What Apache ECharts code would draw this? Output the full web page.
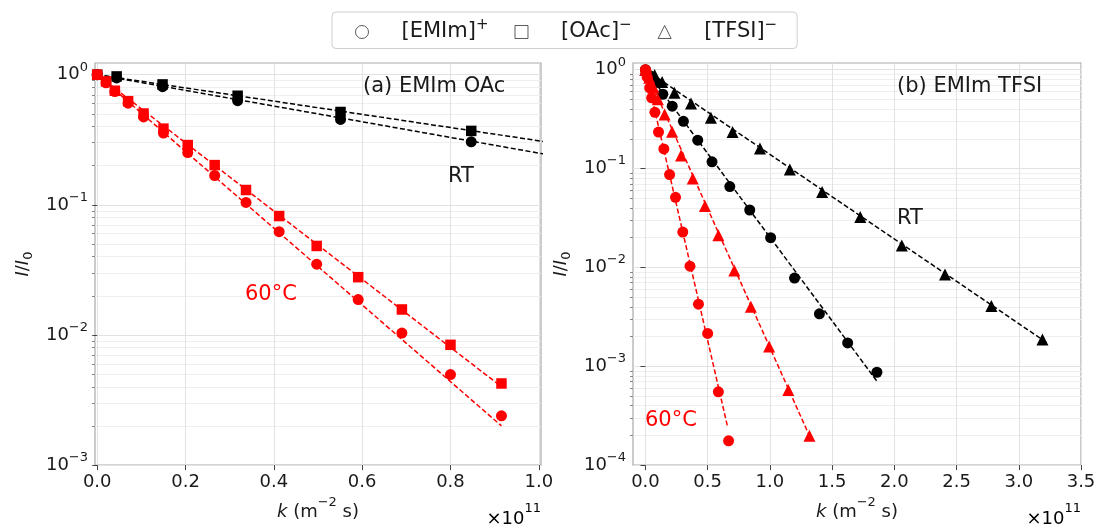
<!DOCTYPE html>
<html><head><meta charset="utf-8">
<script src="https://cdn.jsdelivr.net/npm/echarts@6/dist/echarts.min.js"></script>
<style>html,body{margin:0;padding:0;background:#fff}#c{width:1104px;height:526px}</style>
</head><body><div id="c"></div>
<script>
// ---- Panel (a) EMIm OAc : k in units of 1e11 m^-2 s ----
const kA_RT = [0, 0.044, 0.148, 0.318, 0.551, 0.847];
const yA_OAc_RT = [1.0, 0.97, 0.842, 0.689, 0.517, 0.370];
const yA_EMIm_RT = [1.0, 0.944, 0.809, 0.632, 0.453, 0.305];
const kA_60 = [0, 0.02, 0.04, 0.07, 0.105, 0.15, 0.205, 0.266, 0.337, 0.412, 0.497, 0.591, 0.690, 0.800, 0.9155];
const yA_OAc_60 = [1.0, 0.888, 0.753, 0.626, 0.503, 0.385, 0.288, 0.202, 0.130, 0.082, 0.0483, 0.0278, 0.0157, 0.0084, 0.00424];
const yA_EMIm_60 = [1.0, 0.867, 0.742, 0.604, 0.474, 0.356, 0.252, 0.168, 0.1044, 0.0622, 0.035, 0.0187, 0.01035, 0.00496, 0.00239];
// fitted decay lines (end points)
const fitA_OAc_RT = {k: [0, 1.05], y: [1.0, 0.293]};
const fitA_EMIm_RT = {k: [0, 1.05], y: [1.0, 0.233]};
const fitA_OAc_60 = {k: [0, 0.9155], y: [1.0, 0.0040]};
const fitA_EMIm_60 = {k: [0, 0.9155], y: [1.0, 0.0020]};

// ---- Panel (b) EMIm TFSI ----
const kB_TFSI_RT = [0, 0.074, 0.134, 0.233, 0.366, 0.526, 0.70, 0.92, 1.16, 1.42, 1.726, 2.06, 2.407, 2.78, 3.19];
const yB_TFSI_RT = [1.0, 0.887, 0.75, 0.585, 0.455, 0.327, 0.235, 0.160, 0.098, 0.0578, 0.0323, 0.0167, 0.00847, 0.00406, 0.00187];
const kB_EMIm_RT = [0, 0.035, 0.075, 0.14, 0.215, 0.305, 0.42, 0.535, 0.678, 0.838, 1.006, 1.198, 1.398, 1.625, 1.86];
const yB_EMIm_RT = [1.0, 0.87, 0.75, 0.565, 0.428, 0.301, 0.194, 0.117, 0.0658, 0.0381, 0.020, 0.0078, 0.00339, 0.00172, 0.00087];
const kB_TFSI_60 = [0, 0.03, 0.065, 0.10, 0.154, 0.214, 0.286, 0.38, 0.478, 0.586, 0.714, 0.847, 0.994, 1.148, 1.318];
const yB_TFSI_60 = [1.0, 0.83, 0.66, 0.503, 0.352, 0.236, 0.136, 0.0794, 0.0418, 0.0211, 0.00933, 0.00401, 0.00158, 0.000574, 0.000198];
const kB_EMIm_60 = [0, 0.005, 0.014, 0.034, 0.05, 0.076, 0.105, 0.148, 0.194, 0.2416, 0.30, 0.358, 0.426, 0.50, 0.586, 0.668];
const yB_EMIm_60 = [1.0, 0.95, 0.84, 0.655, 0.52, 0.371, 0.234, 0.158, 0.087, 0.0512, 0.0228, 0.0103, 0.00425, 0.00215, 0.000552, 0.000176];
const fitB_TFSI_RT = {k: [0, 3.22], y: [1.0, 0.00175]};
const fitB_EMIm_RT = {k: [0, 1.87], y: [1.0, 0.00068]};
const fitB_TFSI_60 = {k: [0, 1.32], y: [1.0, 0.000195]};
const fitB_EMIm_60 = {k: [0, 0.66], y: [1.0, 0.000244]};

// ---- ticks ----
const xTicksA = [0, 0.2, 0.4, 0.6, 0.8, 1.0];
const xTicksB = [0, 0.5, 1.0, 1.5, 2.0, 2.5, 3.0, 3.5];
const yTicksA = [0.001, 0.01, 0.1, 1];
const yTicksB = [0.0001, 0.001, 0.01, 0.1, 1];
const minorMant = [2, 3, 4, 5, 6, 7, 8, 9];
const minorA = [0.001, 0.01, 0.1].flatMap(d => minorMant.map(m => +(m * d).toPrecision(3)));
const minorB = [0.0001, 0.001, 0.01, 0.1].flatMap(d => minorMant.map(m => +(m * d).toPrecision(3)));

const FONT = 'DejaVu Sans';
const TXT = '#1a1a1a';
const RED = '#ff0000', BLK = '#000000';
const zip = (k, y) => k.map((v, i) => [v, y[i]]);

function supLabel(v) {
  const e = Math.round(Math.log10(v));
  return '{b|10}{s|' + (e < 0 ? '\u2212' + (-e) : e) + '}';
}
const supRich = {
  b: {fontSize: 18, lineHeight: 28, fontFamily: FONT, color: TXT},
  s: {fontSize: 13, lineHeight: 13, verticalAlign: 'top', fontFamily: FONT, color: TXT}
};
const offRich = {
  b: {fontSize: 18, lineHeight: 34, fontFamily: FONT, color: TXT},
  s: {fontSize: 13, lineHeight: 13, verticalAlign: 'top', fontFamily: FONT, color: TXT}
};

function xAxis(gi, min, max, ticks, dec) {
  return {
    type: 'value', gridIndex: gi, min: min, max: max,
    axisLine: {show: false},
    axisTick: {show: true, customValues: ticks, length: 5, lineStyle: {color: '#444', width: 1}},
    axisLabel: {customValues: ticks, formatter: v => v.toFixed(dec), fontSize: 18, fontFamily: FONT, color: TXT, margin: 8},
    splitLine: {show: true, lineStyle: {color: '#e2e2e2', width: 1}},
    name: '{i|k} (m{s|\u22122} s)', nameLocation: 'middle', nameGap: 26,
    nameTextStyle: {fontSize: 18, fontFamily: FONT, color: TXT, rich: {
      i: {fontSize: 18, fontStyle: 'italic', fontFamily: FONT, color: TXT, lineHeight: 32},
      s: {fontSize: 13, verticalAlign: 'top', lineHeight: 13, fontFamily: FONT, color: TXT}
    }}
  };
}
function yAxis(gi, min, max, ticks) {
  return {
    type: 'log', logBase: 10, gridIndex: gi, min: min, max: max, position: 'left',
    axisLine: {show: false},
    axisTick: {show: true, customValues: ticks, length: 5, lineStyle: {color: '#444', width: 1}},
    axisLabel: {customValues: ticks, formatter: supLabel, rich: supRich, margin: 7},
    splitLine: {show: true, lineStyle: {color: '#e2e2e2', width: 1}},
    name: '{i|I}/{i|I}{s|0}', nameLocation: 'middle', nameGap: 60, nameRotate: 90,
    nameTextStyle: {fontSize: 18, fontFamily: FONT, color: TXT, rich: {
      i: {fontSize: 18, fontStyle: 'italic', fontFamily: FONT, color: TXT, lineHeight: 24},
      s: {fontSize: 13, verticalAlign: 'bottom', lineHeight: 13, fontFamily: FONT, color: TXT}
    }}
  };
}
function minorAxis(gi, min, max, ticks) {
  return {
    type: 'log', logBase: 10, gridIndex: gi, min: min, max: max, position: 'left',
    axisLine: {show: false}, axisLabel: {show: false},
    axisTick: {show: true, customValues: ticks, length: 3, lineStyle: {color: '#666', width: 0.8}},
    splitLine: {show: true, lineStyle: {color: '#efefef', width: 1}}
  };
}
function pts(name, k, y, gi, color, symbol, size) {
  return {type: 'scatter', name: name, xAxisIndex: gi, yAxisIndex: gi, data: zip(k, y),
    symbol: symbol, symbolSize: size, itemStyle: {color: color, opacity: 1}, z: 4, silent: true};
}
function fit(name, f, gi, color) {
  return {type: 'line', name: name, xAxisIndex: gi, yAxisIndex: gi, data: zip(f.k, f.y),
    showSymbol: false, symbol: 'none', clip: true, silent: true, z: 3,
    lineStyle: {color: color, width: 1.5, type: [5, 2.5]}};
}
function legendDummy(name, symbol) {
  return {type: 'scatter', name: name, xAxisIndex: 0, yAxisIndex: 0, data: [], symbol: symbol,
    itemStyle: {color: '#fff', borderColor: '#333', borderWidth: 1}};
}
const LEG = ['[EMIm]\u207A', '[OAc]\u207B', '[TFSI]\u207B'];
const legendText = n => {
  const base = n.slice(0, -1), sign = n.slice(-1) === '\u207A' ? '+' : '\u2212';
  return '{g| }' + '{t|' + base + '}{p|' + sign + '}';
};
const annot = (text, x, y, color) => ({type: 'text', z: 100,
  style: {text: text, x: x, y: y, verticalAlign: 'middle', fontSize: 21, fontFamily: FONT, fill: color}});

const chart = echarts.init(document.getElementById('c'), null, {renderer: 'canvas'});
chart.setOption({
  backgroundColor: '#fff',
  animation: false,
  textStyle: {fontFamily: FONT},
  legend: {
    top: 12, left: 332, itemWidth: 13, itemHeight: 13, itemGap: 26,
    padding: [6, 20, 6, 23], borderColor: '#cfcfcf', borderWidth: 1, borderRadius: 4, backgroundColor: '#fff',
    selectedMode: false,
    data: [
      {name: LEG[0], icon: 'circle', itemStyle: {color: '#fff', borderColor: '#333', borderWidth: 1}},
      {name: LEG[1], icon: 'rect', itemStyle: {color: '#fff', borderColor: '#333', borderWidth: 1}},
      {name: LEG[2], icon: 'triangle', itemStyle: {color: '#fff', borderColor: '#333', borderWidth: 1}}
    ],
    formatter: legendText,
    textStyle: {fontSize: 21, fontFamily: FONT, color: TXT, rich: {
      g: {width: 28},
      t: {fontSize: 21, lineHeight: 28, fontFamily: FONT, color: TXT},
      p: {fontSize: 15, lineHeight: 15, verticalAlign: 'top', fontFamily: FONT, color: TXT}
    }}
  },
  grid: [
    {left: 95, top: 63, width: 446, height: 413, show: true, borderColor: '#aaaaaa', borderWidth: 1.2, backgroundColor: 'transparent'},
    {left: 633, top: 63, width: 448, height: 413, show: true, borderColor: '#aaaaaa', borderWidth: 1.2, backgroundColor: 'transparent'}
  ],
  xAxis: [xAxis(0, -0.005, 1.005, xTicksA, 1), xAxis(1, -0.1, 3.5, xTicksB, 1)],
  yAxis: [yAxis(0, 0.001, 1.23, yTicksA), yAxis(1, 0.0001, 1.17, yTicksB),
          minorAxis(0, 0.001, 1.23, minorA), minorAxis(1, 0.0001, 1.17, minorB)],
  graphic: [
    annot('(a) EMIm OAc', 363, 87, TXT),
    annot('RT', 448, 177, TXT),
    annot('60°C', 245, 295, RED),
    annot('(b) EMIm TFSI', 897, 87, TXT),
    annot('RT', 897, 219, TXT),
    annot('60°C', 645, 421, RED),
    {type: 'text', z: 100, style: {text: '{b|\u00D710}{s|11}', x: 541, y: 519, align: 'right', verticalAlign: 'middle', rich: offRich}},
    {type: 'text', z: 100, style: {text: '{b|\u00D710}{s|11}', x: 1081, y: 519, align: 'right', verticalAlign: 'middle', rich: offRich}}
  ],
  series: [
    legendDummy(LEG[0], 'circle'), legendDummy(LEG[1], 'rect'), legendDummy(LEG[2], 'triangle'),
    // panel a
    fit('a-oac-rt-fit', fitA_OAc_RT, 0, BLK), fit('a-emim-rt-fit', fitA_EMIm_RT, 0, BLK),
    pts('a-oac-rt', kA_RT, yA_OAc_RT, 0, BLK, 'rect', 10.5),
    pts('a-emim-rt', kA_RT, yA_EMIm_RT, 0, BLK, 'circle', 11),
    fit('a-oac-60-fit', fitA_OAc_60, 0, RED), fit('a-emim-60-fit', fitA_EMIm_60, 0, RED),
    pts('a-oac-60', kA_60, yA_OAc_60, 0, RED, 'rect', 10.5),
    pts('a-emim-60', kA_60, yA_EMIm_60, 0, RED, 'circle', 11),
    // panel b
    fit('b-tfsi-rt-fit', fitB_TFSI_RT, 1, BLK), fit('b-emim-rt-fit', fitB_EMIm_RT, 1, BLK),
    pts('b-tfsi-rt', kB_TFSI_RT, yB_TFSI_RT, 1, BLK, 'triangle', 12),
    pts('b-emim-rt', kB_EMIm_RT, yB_EMIm_RT, 1, BLK, 'circle', 11),
    fit('b-tfsi-60-fit', fitB_TFSI_60, 1, RED), fit('b-emim-60-fit', fitB_EMIm_60, 1, RED),
    pts('b-tfsi-60', kB_TFSI_60, yB_TFSI_60, 1, RED, 'triangle', 12),
    pts('b-emim-60', kB_EMIm_60, yB_EMIm_60, 1, RED, 'circle', 11)
  ]
});
</script></body></html>
